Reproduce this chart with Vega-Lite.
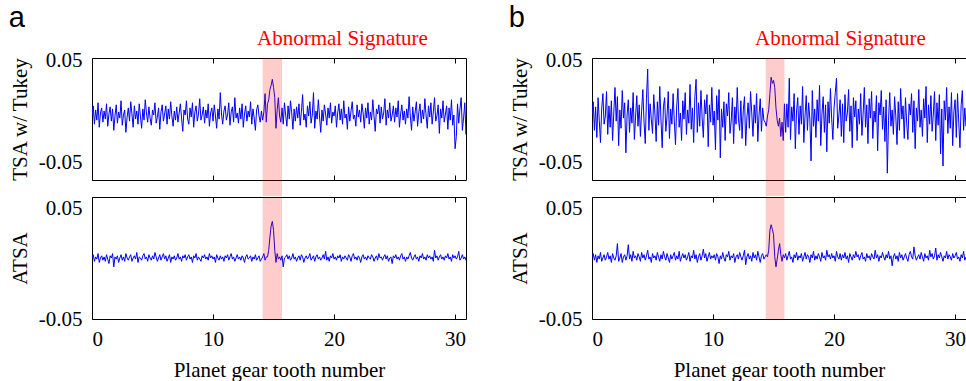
{
"$schema": "https://vega.github.io/schema/vega-lite/v6.json",
"background": "white",
"padding": {"left": 8, "top": 4, "right": 0, "bottom": 0},
"config": {
  "font": "Liberation Serif",
  "view": {"stroke": "black", "strokeWidth": 1},
  "axis": {"grid": false, "domain": false, "labelFont": "Liberation Serif", "labelFontSize": 21, "labelColor": "black", "titleFont": "Liberation Serif", "titleFontSize": 21, "titleFontWeight": "normal", "titleColor": "black", "tickColor": "black", "tickWidth": 1}
},
"data": {"values": [
{"x":0,"a1":-0.003,"a2":0.005,"b1":-0.002,"b2":0.006},
{"x":0.1,"a1":0.006,"a2":0.008,"b1":0.010,"b2":0.009},
{"x":0.2,"a1":-0.012,"a2":0.002,"b1":-0.018,"b2":0.003},
{"x":0.3,"a1":0.002,"a2":0.006,"b1":0.005,"b2":0.008},
{"x":0.4,"a1":-0.008,"a2":0.004,"b1":-0.025,"b2":0.001},
{"x":0.5,"a1":0.009,"a2":0.009,"b1":0.014,"b2":0.007},
{"x":0.6,"a1":-0.015,"a2":0.001,"b1":-0.008,"b2":0.004},
{"x":0.7,"a1":-0.001,"a2":0.005,"b1":-0.030,"b2":0.010},
{"x":0.8,"a1":0.004,"a2":0.007,"b1":0.003,"b2":0.002},
{"x":0.9,"a1":-0.010,"a2":0.003,"b1":0.018,"b2":0.005},
{"x":1.0,"a1":0.001,"a2":0.006,"b1":-0.012,"b2":0.008},
{"x":1.1,"a1":-0.007,"a2":0.002,"b1":-0.004,"b2":0.003},
{"x":1.2,"a1":0.008,"a2":0.008,"b1":0.020,"b2":0.006},
{"x":1.3,"a1":-0.014,"a2":0.004,"b1":-0.022,"b2":0.010},
{"x":1.4,"a1":-0.002,"a2":0.000,"b1":0.006,"b2":0.004},
{"x":1.5,"a1":0.005,"a2":0.007,"b1":-0.015,"b2":0.007},
{"x":1.6,"a1":-0.009,"a2":0.005,"b1":0.011,"b2":0.001},
{"x":1.7,"a1":0.003,"a2":0.009,"b1":-0.028,"b2":0.009},
{"x":1.8,"a1":-0.018,"a2":-0.003,"b1":-0.001,"b2":0.005},
{"x":1.9,"a1":-0.004,"a2":0.006,"b1":0.024,"b2":0.003},
{"x":2.0,"a1":0.007,"a2":0.004,"b1":-0.009,"b2":0.007},
{"x":2.1,"a1":-0.011,"a2":0.007,"b1":0.015,"b2":0.018},
{"x":2.2,"a1":0.000,"a2":0.001,"b1":-0.033,"b2":0.002},
{"x":2.3,"a1":-0.006,"a2":0.005,"b1":0.002,"b2":0.005},
{"x":2.4,"a1":0.011,"a2":0.008,"b1":-0.016,"b2":0.009},
{"x":2.5,"a1":-0.013,"a2":0.003,"b1":0.021,"b2":0.001},
{"x":2.6,"a1":-0.003,"a2":0.006,"b1":-0.006,"b2":0.006},
{"x":2.7,"a1":0.002,"a2":0.002,"b1":0.009,"b2":0.008},
{"x":2.8,"a1":-0.020,"a2":0.009,"b1":-0.040,"b2":0.003},
{"x":2.9,"a1":-0.005,"a2":0.005,"b1":-0.003,"b2":0.007},
{"x":3.0,"a1":0.004,"a2":0.003,"b1":0.012,"b2":0.017},
{"x":3.1,"a1":-0.009,"a2":0.006,"b1":-0.020,"b2":0.004},
{"x":3.2,"a1":0.010,"a2":0.008,"b1":0.004,"b2":0.008},
{"x":3.3,"a1":-0.002,"a2":0.002,"b1":-0.011,"b2":0.002},
{"x":3.4,"a1":-0.015,"a2":0.005,"b1":0.019,"b2":0.011},
{"x":3.5,"a1":0.006,"a2":0.007,"b1":-0.027,"b2":0.005},
{"x":3.6,"a1":-0.007,"a2":0.004,"b1":-0.005,"b2":0.007},
{"x":3.7,"a1":0.001,"a2":0.010,"b1":0.016,"b2":0.003},
{"x":3.8,"a1":-0.012,"a2":0.001,"b1":-0.014,"b2":0.009},
{"x":3.9,"a1":0.008,"a2":0.006,"b1":0.007,"b2":0.006},
{"x":4.0,"a1":-0.004,"a2":0.005,"b1":-0.024,"b2":0.002},
{"x":4.1,"a1":-0.016,"a2":0.003,"b1":0.001,"b2":0.010},
{"x":4.2,"a1":0.003,"a2":0.007,"b1":0.022,"b2":0.005},
{"x":4.3,"a1":-0.008,"a2":0.009,"b1":-0.010,"b2":0.008},
{"x":4.4,"a1":0.012,"a2":0.004,"b1":-0.031,"b2":0.003},
{"x":4.5,"a1":-0.001,"a2":0.006,"b1":0.013,"b2":0.007},
{"x":4.6,"a1":-0.010,"a2":0.002,"b1":0.042,"b2":0.012},
{"x":4.7,"a1":0.005,"a2":0.008,"b1":-0.018,"b2":0.004},
{"x":4.8,"a1":-0.006,"a2":0.005,"b1":0.008,"b2":0.006},
{"x":4.9,"a1":-0.013,"a2":0.003,"b1":-0.007,"b2":0.001},
{"x":5.0,"a1":0.002,"a2":0.007,"b1":-0.021,"b2":0.009},
{"x":5.1,"a1":-0.003,"a2":0.004,"b1":0.017,"b2":0.005},
{"x":5.2,"a1":0.009,"a2":0.010,"b1":-0.002,"b2":0.007},
{"x":5.3,"a1":-0.011,"a2":0.006,"b1":-0.029,"b2":0.003},
{"x":5.4,"a1":-0.005,"a2":0.002,"b1":0.010,"b2":0.010},
{"x":5.5,"a1":0.004,"a2":0.005,"b1":-0.013,"b2":0.006},
{"x":5.6,"a1":-0.017,"a2":0.008,"b1":0.025,"b2":0.002},
{"x":5.7,"a1":0.000,"a2":0.003,"b1":-0.008,"b2":0.008},
{"x":5.8,"a1":0.007,"a2":0.006,"b1":-0.035,"b2":0.004},
{"x":5.9,"a1":-0.009,"a2":0.009,"b1":0.005,"b2":0.011},
{"x":6.0,"a1":-0.002,"a2":0.004,"b1":0.014,"b2":0.006},
{"x":6.1,"a1":0.006,"a2":0.007,"b1":-0.019,"b2":0.003},
{"x":6.2,"a1":-0.012,"a2":0.002,"b1":-0.004,"b2":0.009},
{"x":6.3,"a1":0.003,"a2":0.005,"b1":0.020,"b2":0.005},
{"x":6.4,"a1":-0.007,"a2":0.008,"b1":-0.026,"b2":0.001},
{"x":6.5,"a1":0.010,"a2":0.001,"b1":0.003,"b2":0.008},
{"x":6.6,"a1":-0.004,"a2":0.006,"b1":-0.012,"b2":0.004},
{"x":6.7,"a1":-0.014,"a2":0.004,"b1":0.018,"b2":0.007},
{"x":6.8,"a1":0.001,"a2":0.007,"b1":-0.009,"b2":0.010},
{"x":6.9,"a1":-0.008,"a2":0.003,"b1":-0.032,"b2":0.003},
{"x":7.0,"a1":0.005,"a2":0.005,"b1":0.006,"b2":0.007},
{"x":7.1,"a1":-0.010,"a2":0.009,"b1":0.023,"b2":0.004},
{"x":7.2,"a1":-0.001,"a2":0.004,"b1":-0.015,"b2":0.011},
{"x":7.3,"a1":0.008,"a2":0.006,"b1":-0.001,"b2":0.002},
{"x":7.4,"a1":-0.006,"a2":0.002,"b1":-0.028,"b2":0.006},
{"x":7.5,"a1":-0.019,"a2":0.007,"b1":0.011,"b2":0.009},
{"x":7.6,"a1":0.002,"a2":0.005,"b1":-0.007,"b2":0.005},
{"x":7.7,"a1":-0.003,"a2":0.008,"b1":0.019,"b2":0.008},
{"x":7.8,"a1":0.011,"a2":0.003,"b1":-0.022,"b2":0.003},
{"x":7.9,"a1":-0.007,"a2":0.006,"b1":0.002,"b2":0.006},
{"x":8.0,"a1":-0.012,"a2":0.008,"b1":-0.011,"b2":0.010},
{"x":8.1,"a1":0.004,"a2":0.004,"b1":0.027,"b2":0.002},
{"x":8.2,"a1":-0.005,"a2":0.006,"b1":-0.017,"b2":0.007},
{"x":8.3,"a1":0.009,"a2":0.001,"b1":0.004,"b2":0.005},
{"x":8.4,"a1":-0.015,"a2":0.007,"b1":-0.030,"b2":0.012},
{"x":8.5,"a1":0.000,"a2":0.005,"b1":0.015,"b2":0.004},
{"x":8.6,"a1":0.006,"a2":0.009,"b1":0.032,"b2":0.008},
{"x":8.7,"a1":-0.009,"a2":0.003,"b1":-0.020,"b2":0.001},
{"x":8.8,"a1":-0.002,"a2":0.006,"b1":0.009,"b2":0.006},
{"x":8.9,"a1":0.013,"a2":0.004,"b1":-0.014,"b2":0.009},
{"x":9.0,"a1":-0.008,"a2":0.002,"b1":0.021,"b2":0.003},
{"x":9.1,"a1":-0.003,"a2":0.007,"b1":-0.006,"b2":0.007},
{"x":9.2,"a1":0.005,"a2":0.005,"b1":-0.025,"b2":0.013},
{"x":9.3,"a1":-0.011,"a2":0.008,"b1":0.012,"b2":0.005},
{"x":9.4,"a1":0.002,"a2":0.004,"b1":-0.002,"b2":0.009},
{"x":9.5,"a1":-0.006,"a2":0.006,"b1":0.017,"b2":0.002},
{"x":9.6,"a1":0.008,"a2":0.003,"b1":-0.034,"b2":0.006},
{"x":9.7,"a1":-0.014,"a2":0.009,"b1":0.007,"b2":0.010},
{"x":9.8,"a1":-0.001,"a2":0.005,"b1":-0.010,"b2":0.004},
{"x":9.9,"a1":0.004,"a2":0.007,"b1":0.024,"b2":0.007},
{"x":10.0,"a1":-0.009,"a2":0.004,"b1":-0.013,"b2":0.005},
{"x":10.1,"a1":0.007,"a2":0.006,"b1":0.001,"b2":0.008},
{"x":10.2,"a1":-0.004,"a2":0.001,"b1":-0.037,"b2":0.003},
{"x":10.3,"a1":-0.016,"a2":0.008,"b1":0.016,"b2":0.009},
{"x":10.4,"a1":0.003,"a2":0.005,"b1":-0.008,"b2":0.006},
{"x":10.5,"a1":-0.007,"a2":0.003,"b1":0.022,"b2":0.000},
{"x":10.6,"a1":0.019,"a2":0.007,"b1":-0.045,"b2":0.007},
{"x":10.7,"a1":-0.002,"a2":0.004,"b1":0.003,"b2":0.004},
{"x":10.8,"a1":-0.012,"a2":0.006,"b1":-0.015,"b2":0.010},
{"x":10.9,"a1":0.001,"a2":0.002,"b1":0.010,"b2":0.005},
{"x":11.0,"a1":0.006,"a2":0.007,"b1":-0.028,"b2":0.002},
{"x":11.1,"a1":-0.008,"a2":0.005,"b1":0.008,"b2":0.008},
{"x":11.2,"a1":-0.003,"a2":0.008,"b1":-0.004,"b2":0.006},
{"x":11.3,"a1":0.009,"a2":0.003,"b1":0.019,"b2":0.011},
{"x":11.4,"a1":-0.013,"a2":0.006,"b1":-0.021,"b2":0.003},
{"x":11.5,"a1":0.000,"a2":0.009,"b1":-0.009,"b2":0.007},
{"x":11.6,"a1":0.005,"a2":0.004,"b1":0.014,"b2":0.005},
{"x":11.7,"a1":-0.010,"a2":0.006,"b1":-0.031,"b2":0.009},
{"x":11.8,"a1":0.014,"a2":0.002,"b1":0.005,"b2":0.001},
{"x":11.9,"a1":-0.006,"a2":0.005,"b1":-0.012,"b2":0.006},
{"x":12.0,"a1":-0.001,"a2":0.008,"b1":0.024,"b2":0.008},
{"x":12.1,"a1":-0.011,"a2":0.004,"b1":-0.007,"b2":0.004},
{"x":12.2,"a1":0.004,"a2":0.006,"b1":-0.018,"b2":0.010},
{"x":12.3,"a1":-0.007,"a2":0.003,"b1":0.011,"b2":0.006},
{"x":12.4,"a1":0.008,"a2":0.007,"b1":-0.026,"b2":0.003},
{"x":12.5,"a1":-0.015,"a2":0.005,"b1":0.002,"b2":0.007},
{"x":12.6,"a1":-0.002,"a2":0.001,"b1":0.015,"b2":0.012},
{"x":12.7,"a1":0.006,"a2":0.006,"b1":-0.033,"b2":-0.001},
{"x":12.8,"a1":-0.009,"a2":0.008,"b1":-0.005,"b2":0.006},
{"x":12.9,"a1":0.001,"a2":0.004,"b1":0.009,"b2":0.009},
{"x":13.0,"a1":-0.005,"a2":0.005,"b1":-0.016,"b2":0.004},
{"x":13.1,"a1":0.010,"a2":0.007,"b1":0.020,"b2":0.007},
{"x":13.2,"a1":-0.012,"a2":0.002,"b1":-0.001,"b2":0.002},
{"x":13.3,"a1":0.003,"a2":0.006,"b1":-0.024,"b2":0.010},
{"x":13.4,"a1":-0.006,"a2":0.004,"b1":0.007,"b2":0.005},
{"x":13.5,"a1":-0.018,"a2":0.008,"b1":-0.011,"b2":0.008},
{"x":13.6,"a1":0.002,"a2":0.003,"b1":0.018,"b2":0.003},
{"x":13.7,"a1":0.007,"a2":0.005,"b1":-0.029,"b2":0.011},
{"x":13.8,"a1":-0.004,"a2":0.007,"b1":-0.003,"b2":0.006},
{"x":13.9,"a1":-0.010,"a2":0.002,"b1":0.013,"b2":0.001},
{"x":14.0,"a1":0.001,"a2":0.004,"b1":-0.019,"b2":0.007},
{"x":14.1,"a1":-0.008,"a2":0.006,"b1":0.004,"b2":0.009},
{"x":14.2,"a1":0.000,"a2":0.009,"b1":-0.008,"b2":0.004},
{"x":14.3,"a1":0.018,"a2":0.003,"b1":-0.010,"b2":0.006},
{"x":14.4,"a1":-0.010,"a2":0.006,"b1":-0.014,"b2":0.008},
{"x":14.5,"a1":0.008,"a2":0.006,"b1":-0.004,"b2":0.006},
{"x":14.6,"a1":0.012,"a2":0.012,"b1":0.002,"b2":0.012},
{"x":14.7,"a1":0.022,"a2":0.024,"b1":0.018,"b2":0.030},
{"x":14.8,"a1":0.026,"a2":0.034,"b1":0.034,"b2":0.035},
{"x":14.9,"a1":0.032,"a2":0.038,"b1":0.028,"b2":0.031},
{"x":15.0,"a1":0.024,"a2":0.030,"b1":0.031,"b2":0.026},
{"x":15.1,"a1":0.014,"a2":0.012,"b1":0.024,"b2":0.006},
{"x":15.2,"a1":-0.016,"a2":0.001,"b1":0.004,"b2":-0.003},
{"x":15.3,"a1":0.002,"a2":0.009,"b1":-0.008,"b2":0.004},
{"x":15.4,"a1":0.014,"a2":0.004,"b1":-0.014,"b2":0.012},
{"x":15.5,"a1":-0.004,"a2":0.006,"b1":-0.006,"b2":0.018},
{"x":15.6,"a1":-0.010,"a2":0.003,"b1":-0.024,"b2":0.008},
{"x":15.7,"a1":0.004,"a2":0.007,"b1":-0.010,"b2":0.002},
{"x":15.8,"a1":-0.012,"a2":-0.003,"b1":-0.028,"b2":0.008},
{"x":15.9,"a1":0.009,"a2":0.005,"b1":0.008,"b2":0.005},
{"x":16.0,"a1":-0.003,"a2":0.006,"b1":-0.020,"b2":0.009},
{"x":16.1,"a1":-0.014,"a2":0.008,"b1":0.008,"b2":0.003},
{"x":16.2,"a1":0.006,"a2":0.004,"b1":-0.015,"b2":0.007},
{"x":16.3,"a1":-0.007,"a2":0.007,"b1":0.033,"b2":0.011},
{"x":16.4,"a1":0.011,"a2":0.003,"b1":-0.027,"b2":0.004},
{"x":16.5,"a1":-0.001,"a2":0.005,"b1":0.005,"b2":0.006},
{"x":16.6,"a1":-0.017,"a2":0.009,"b1":-0.009,"b2":0.001},
{"x":16.7,"a1":0.003,"a2":0.004,"b1":0.018,"b2":0.008},
{"x":16.8,"a1":-0.009,"a2":0.006,"b1":-0.036,"b2":0.005},
{"x":16.9,"a1":0.005,"a2":0.002,"b1":0.001,"b2":0.010},
{"x":17.0,"a1":-0.006,"a2":0.005,"b1":0.014,"b2":0.003},
{"x":17.1,"a1":0.008,"a2":0.007,"b1":-0.022,"b2":0.007},
{"x":17.2,"a1":-0.013,"a2":0.003,"b1":0.006,"b2":0.005},
{"x":17.3,"a1":0.000,"a2":0.008,"b1":-0.012,"b2":0.009},
{"x":17.4,"a1":0.017,"a2":0.006,"b1":0.025,"b2":0.002},
{"x":17.5,"a1":-0.008,"a2":0.001,"b1":-0.030,"b2":0.006},
{"x":17.6,"a1":-0.002,"a2":0.005,"b1":-0.004,"b2":0.010},
{"x":17.7,"a1":-0.015,"a2":0.007,"b1":0.016,"b2":0.004},
{"x":17.8,"a1":0.006,"a2":0.004,"b1":-0.018,"b2":0.008},
{"x":17.9,"a1":-0.004,"a2":0.006,"b1":0.009,"b2":0.006},
{"x":18.0,"a1":0.010,"a2":0.009,"b1":-0.007,"b2":0.001},
{"x":18.1,"a1":-0.011,"a2":0.003,"b1":-0.048,"b2":0.008},
{"x":18.2,"a1":-0.003,"a2":0.005,"b1":0.021,"b2":0.005},
{"x":18.3,"a1":0.019,"a2":0.007,"b1":-0.014,"b2":0.011},
{"x":18.4,"a1":-0.016,"a2":0.002,"b1":0.003,"b2":0.003},
{"x":18.5,"a1":0.001,"a2":0.006,"b1":-0.025,"b2":0.007},
{"x":18.6,"a1":-0.007,"a2":0.008,"b1":0.012,"b2":0.004},
{"x":18.7,"a1":0.012,"a2":0.004,"b1":-0.009,"b2":0.009},
{"x":18.8,"a1":-0.005,"a2":0.006,"b1":0.026,"b2":0.006},
{"x":18.9,"a1":-0.020,"a2":0.003,"b1":-0.033,"b2":0.002},
{"x":19.0,"a1":0.002,"a2":0.005,"b1":-0.002,"b2":0.010},
{"x":19.1,"a1":-0.009,"a2":0.008,"b1":0.015,"b2":0.005},
{"x":19.2,"a1":0.007,"a2":0.004,"b1":-0.020,"b2":0.007},
{"x":19.3,"a1":-0.002,"a2":0.011,"b1":0.007,"b2":0.003},
{"x":19.4,"a1":-0.013,"a2":0.003,"b1":-0.039,"b2":0.012},
{"x":19.5,"a1":0.004,"a2":0.006,"b1":0.010,"b2":0.006},
{"x":19.6,"a1":-0.006,"a2":0.002,"b1":-0.011,"b2":0.008},
{"x":19.7,"a1":0.009,"a2":0.007,"b1":0.023,"b2":0.004},
{"x":19.8,"a1":-0.011,"a2":0.005,"b1":-0.006,"b2":0.009},
{"x":19.9,"a1":0.000,"a2":0.009,"b1":-0.027,"b2":0.005},
{"x":20.0,"a1":-0.004,"a2":0.004,"b1":0.004,"b2":0.007},
{"x":20.1,"a1":0.006,"a2":0.006,"b1":0.019,"b2":0.002},
{"x":20.2,"a1":-0.015,"a2":0.003,"b1":0.033,"b2":0.011},
{"x":20.3,"a1":-0.001,"a2":0.007,"b1":-0.016,"b2":0.006},
{"x":20.4,"a1":0.008,"a2":0.005,"b1":-0.003,"b2":0.004},
{"x":20.5,"a1":-0.008,"a2":0.008,"b1":0.012,"b2":0.009},
{"x":20.6,"a1":0.003,"a2":0.002,"b1":-0.024,"b2":0.003},
{"x":20.7,"a1":-0.012,"a2":0.006,"b1":0.008,"b2":0.008},
{"x":20.8,"a1":0.011,"a2":0.004,"b1":-0.030,"b2":0.005},
{"x":20.9,"a1":-0.006,"a2":0.007,"b1":0.017,"b2":0.010},
{"x":21.0,"a1":-0.002,"a2":0.005,"b1":-0.009,"b2":0.004},
{"x":21.1,"a1":-0.017,"a2":0.003,"b1":-0.001,"b2":0.007},
{"x":21.2,"a1":0.005,"a2":0.008,"b1":0.022,"b2":0.001},
{"x":21.3,"a1":-0.009,"a2":0.006,"b1":-0.019,"b2":0.009},
{"x":21.4,"a1":0.001,"a2":0.002,"b1":0.006,"b2":0.006},
{"x":21.5,"a1":0.010,"a2":0.007,"b1":-0.035,"b2":0.003},
{"x":21.6,"a1":-0.007,"a2":0.009,"b1":0.014,"b2":0.008},
{"x":21.7,"a1":-0.003,"a2":0.004,"b1":-0.005,"b2":0.005},
{"x":21.8,"a1":-0.014,"a2":0.006,"b1":0.011,"b2":0.011},
{"x":21.9,"a1":0.007,"a2":0.003,"b1":-0.028,"b2":0.006},
{"x":22.0,"a1":-0.005,"a2":0.007,"b1":0.003,"b2":0.008},
{"x":22.1,"a1":0.002,"a2":0.005,"b1":-0.012,"b2":0.003},
{"x":22.2,"a1":-0.010,"a2":0.001,"b1":0.018,"b2":0.007},
{"x":22.3,"a1":0.008,"a2":0.006,"b1":-0.023,"b2":0.010},
{"x":22.4,"a1":-0.001,"a2":0.008,"b1":-0.002,"b2":0.004},
{"x":22.5,"a1":-0.016,"a2":0.004,"b1":0.024,"b2":0.006},
{"x":22.6,"a1":0.004,"a2":0.006,"b1":-0.015,"b2":0.002},
{"x":22.7,"a1":-0.006,"a2":0.003,"b1":0.007,"b2":0.009},
{"x":22.8,"a1":0.009,"a2":0.007,"b1":-0.031,"b2":0.005},
{"x":22.9,"a1":-0.012,"a2":0.005,"b1":0.013,"b2":0.007},
{"x":23.0,"a1":0.000,"a2":0.004,"b1":-0.006,"b2":0.003},
{"x":23.1,"a1":-0.008,"a2":0.008,"b1":0.020,"b2":0.009},
{"x":23.2,"a1":0.012,"a2":0.006,"b1":-0.026,"b2":0.006},
{"x":23.3,"a1":-0.004,"a2":0.002,"b1":0.001,"b2":0.004},
{"x":23.4,"a1":-0.019,"a2":0.005,"b1":-0.010,"b2":0.012},
{"x":23.5,"a1":0.003,"a2":0.007,"b1":0.016,"b2":0.005},
{"x":23.6,"a1":-0.002,"a2":0.003,"b1":-0.038,"b2":0.008},
{"x":23.7,"a1":0.007,"a2":0.009,"b1":0.009,"b2":0.002},
{"x":23.8,"a1":-0.011,"a2":0.005,"b1":-0.003,"b2":0.007},
{"x":23.9,"a1":0.005,"a2":0.006,"b1":0.021,"b2":0.005},
{"x":24.0,"a1":-0.007,"a2":0.003,"b1":-0.017,"b2":0.010},
{"x":24.1,"a1":-0.001,"a2":0.006,"b1":0.005,"b2":0.006},
{"x":24.2,"a1":0.013,"a2":0.008,"b1":-0.029,"b2":0.003},
{"x":24.3,"a1":-0.013,"a2":0.004,"b1":0.012,"b2":0.008},
{"x":24.4,"a1":0.002,"a2":0.007,"b1":-0.060,"b2":0.005},
{"x":24.5,"a1":-0.006,"a2":0.002,"b1":-0.008,"b2":0.011},
{"x":24.6,"a1":0.009,"a2":0.005,"b1":0.019,"b2":0.004},
{"x":24.7,"a1":-0.009,"a2":0.006,"b1":-0.014,"b2":0.007},
{"x":24.8,"a1":-0.003,"a2":0.000,"b1":0.002,"b2":-0.002},
{"x":24.9,"a1":0.006,"a2":0.007,"b1":-0.022,"b2":0.006},
{"x":25.0,"a1":-0.010,"a2":0.005,"b1":0.015,"b2":0.009},
{"x":25.1,"a1":0.004,"a2":0.008,"b1":-0.004,"b2":0.004},
{"x":25.2,"a1":-0.005,"a2":0.004,"b1":-0.032,"b2":0.007},
{"x":25.3,"a1":0.011,"a2":0.006,"b1":0.010,"b2":0.002},
{"x":25.4,"a1":-0.015,"a2":0.003,"b1":-0.018,"b2":0.010},
{"x":25.5,"a1":-0.002,"a2":0.007,"b1":0.023,"b2":0.005},
{"x":25.6,"a1":0.007,"a2":0.009,"b1":-0.007,"b2":0.008},
{"x":25.7,"a1":-0.008,"a2":0.004,"b1":0.006,"b2":0.003},
{"x":25.8,"a1":0.001,"a2":0.006,"b1":-0.026,"b2":0.006},
{"x":25.9,"a1":-0.012,"a2":0.002,"b1":0.014,"b2":0.009},
{"x":26.0,"a1":0.003,"a2":0.006,"b1":-0.011,"b2":0.005},
{"x":26.1,"a1":-0.006,"a2":0.004,"b1":-0.027,"b2":0.002},
{"x":26.2,"a1":0.015,"a2":0.007,"b1":0.008,"b2":0.008},
{"x":26.3,"a1":-0.004,"a2":0.010,"b1":-0.003,"b2":0.011},
{"x":26.4,"a1":-0.018,"a2":0.005,"b1":0.018,"b2":0.006},
{"x":26.5,"a1":0.005,"a2":0.003,"b1":-0.020,"b2":0.004},
{"x":26.6,"a1":-0.009,"a2":0.006,"b1":0.011,"b2":0.015},
{"x":26.7,"a1":0.000,"a2":0.008,"b1":-0.036,"b2":0.007},
{"x":26.8,"a1":0.010,"a2":0.004,"b1":0.004,"b2":0.003},
{"x":26.9,"a1":-0.014,"a2":0.006,"b1":-0.009,"b2":0.006},
{"x":27.0,"a1":-0.001,"a2":0.002,"b1":0.022,"b2":0.008},
{"x":27.1,"a1":0.008,"a2":0.007,"b1":-0.015,"b2":0.004},
{"x":27.2,"a1":-0.011,"a2":0.005,"b1":0.002,"b2":0.010},
{"x":27.3,"a1":0.002,"a2":0.009,"b1":-0.024,"b2":0.006},
{"x":27.4,"a1":-0.007,"a2":0.004,"b1":0.013,"b2":0.002},
{"x":27.5,"a1":0.013,"a2":0.006,"b1":-0.006,"b2":0.009},
{"x":27.6,"a1":-0.003,"a2":0.003,"b1":0.025,"b2":0.005},
{"x":27.7,"a1":-0.016,"a2":0.008,"b1":-0.030,"b2":0.007},
{"x":27.8,"a1":0.006,"a2":0.005,"b1":0.007,"b2":0.003},
{"x":27.9,"a1":-0.005,"a2":0.007,"b1":-0.012,"b2":0.012},
{"x":28.0,"a1":0.009,"a2":0.004,"b1":0.016,"b2":0.006},
{"x":28.1,"a1":-0.012,"a2":0.006,"b1":-0.019,"b2":0.009},
{"x":28.2,"a1":0.000,"a2":0.002,"b1":-0.002,"b2":0.004},
{"x":28.3,"a1":0.014,"a2":0.012,"b1":0.020,"b2":0.007},
{"x":28.4,"a1":-0.009,"a2":0.005,"b1":-0.028,"b2":0.014},
{"x":28.5,"a1":-0.004,"a2":0.007,"b1":0.009,"b2":0.003},
{"x":28.6,"a1":0.007,"a2":0.003,"b1":-0.013,"b2":0.008},
{"x":28.7,"a1":-0.021,"a2":0.006,"b1":0.017,"b2":0.005},
{"x":28.8,"a1":0.003,"a2":0.008,"b1":-0.041,"b2":0.010},
{"x":28.9,"a1":-0.006,"a2":0.004,"b1":0.003,"b2":0.006},
{"x":29.0,"a1":0.011,"a2":0.006,"b1":-0.053,"b2":0.002},
{"x":29.1,"a1":-0.010,"a2":0.003,"b1":0.011,"b2":0.007},
{"x":29.2,"a1":-0.002,"a2":0.007,"b1":-0.008,"b2":0.005},
{"x":29.3,"a1":0.006,"a2":0.005,"b1":0.024,"b2":0.011},
{"x":29.4,"a1":-0.017,"a2":0.009,"b1":-0.021,"b2":0.004},
{"x":29.5,"a1":0.004,"a2":0.004,"b1":0.005,"b2":0.008},
{"x":29.6,"a1":-0.008,"a2":0.006,"b1":-0.016,"b2":0.006},
{"x":29.7,"a1":0.012,"a2":0.002,"b1":0.019,"b2":0.003},
{"x":29.8,"a1":-0.013,"a2":0.008,"b1":-0.033,"b2":0.009},
{"x":29.9,"a1":-0.003,"a2":0.005,"b1":0.000,"b2":0.005},
{"x":30.0,"a1":-0.036,"a2":0.007,"b1":0.012,"b2":0.007},
{"x":30.1,"a1":-0.024,"a2":0.004,"b1":-0.025,"b2":0.010},
{"x":30.2,"a1":0.008,"a2":0.006,"b1":0.018,"b2":0.004},
{"x":30.3,"a1":-0.011,"a2":0.011,"b1":-0.010,"b2":0.006},
{"x":30.4,"a1":0.003,"a2":0.003,"b1":-0.035,"b2":0.002},
{"x":30.5,"a1":0.014,"a2":0.005,"b1":0.007,"b2":0.008},
{"x":30.6,"a1":-0.018,"a2":0.008,"b1":0.021,"b2":0.005},
{"x":30.7,"a1":-0.006,"a2":0.004,"b1":-0.018,"b2":0.011},
{"x":30.8,"a1":0.009,"a2":0.006,"b1":0.004,"b2":0.003},
{"x":30.9,"a1":-0.022,"a2":0.003,"b1":-0.014,"b2":0.006},
{"x":31.0,"a1":-0.004,"a2":0.005,"b1":-0.006,"b2":0.007}
]},
"spacing": 41,
"hconcat": [
 {
  "title": {"text": "a", "font": "Liberation Sans", "fontSize": 29, "fontWeight": "normal", "anchor": "start", "frame": "bounds", "color": "black", "offset": -6},
  "spacing": -3,
  "vconcat": [
   {
    "width": 374, "height": 122,
    "title": {"text": "Abnormal Signature", "color": "#ff0000", "font": "Liberation Serif", "fontSize": 21, "fontWeight": "normal", "anchor": "start", "frame": "group", "dx": 165, "offset": 1},
    "layer": [
     {"mark": {"type": "line", "color": "#0000ff", "strokeWidth": 1, "clip": true},
      "encoding": {
       "x": {"field": "x", "type": "quantitative", "scale": {"domain": [0, 30.9], "nice": false, "zero": false}, "axis": {"orient": "bottom", "values": [0, 10, 20, 30], "labels": false, "title": null, "tickSize": -5}},
       "y": {"field": "a1", "type": "quantitative", "scale": {"domain": [-0.0667, 0.0529], "nice": false, "zero": false}, "axis": {"values": [-0.05, 0.05], "ticks": false, "title": "TSA w/ Tukey", "labelPadding": 10, "titlePadding": 8, "labelExpr": "datum.value > 0 ? '0.05' : '-0.05'"}}
      }},
     {"data": {"values": [{"s": 14.1, "e": 15.7}]},
      "mark": {"type": "rect", "color": "#ff0000", "opacity": 0.2, "clip": false},
      "encoding": {
       "x": {"field": "s", "type": "quantitative", "scale": {"domain": [0, 30.9], "nice": false, "zero": false}, "axis": {"orient": "top", "values": [0, 10, 20, 30], "labels": false, "title": null, "tickSize": -5}},
       "x2": {"field": "e"},
       "y": {"datum": 0.0529, "type": "quantitative", "axis": {"values": [-0.05, 0.05], "ticks": false, "title": "TSA w/ Tukey", "labelPadding": 10, "titlePadding": 8, "labelExpr": "datum.value > 0 ? '0.05' : '-0.05'"}},
       "y2": {"datum": -0.0824}
      }}
    ],
    "resolve": {"axis": {"x": "independent"}}
   },
   {
    "width": 374, "height": 122,
    "layer": [
     {"mark": {"type": "line", "color": "#0000ff", "strokeWidth": 1, "clip": true},
      "encoding": {
       "x": {"field": "x", "type": "quantitative", "scale": {"domain": [0, 30.9], "nice": false, "zero": false}, "axis": {"orient": "bottom", "values": [0, 10, 20, 30], "title": "Planet gear tooth number", "tickSize": -5, "labelPadding": 14, "titlePadding": 10}},
       "y": {"field": "a2", "type": "quantitative", "scale": {"domain": [-0.05, 0.06], "nice": false, "zero": false}, "axis": {"values": [-0.05, 0.05], "ticks": false, "title": "ATSA", "labelPadding": 10, "titlePadding": 8, "labelExpr": "datum.value > 0 ? '0.05' : '-0.05'"}}
      }},
     {"data": {"values": [{"s": 14.1, "e": 15.7}]},
      "mark": {"type": "rect", "color": "#ff0000", "opacity": 0.2},
      "encoding": {
       "x": {"field": "s", "type": "quantitative", "scale": {"domain": [0, 30.9], "nice": false, "zero": false}, "axis": {"orient": "top", "values": [0, 10, 20, 30], "labels": false, "title": null, "tickSize": -5}},
       "x2": {"field": "e"}
      }}
    ],
    "resolve": {"axis": {"x": "independent"}}
   }
  ]
 },
 {
  "title": {"text": "b", "font": "Liberation Sans", "fontSize": 29, "fontWeight": "normal", "anchor": "start", "frame": "bounds", "color": "black", "offset": -6},
  "spacing": -3,
  "vconcat": [
   {
    "width": 374, "height": 122,
    "title": {"text": "Abnormal Signature", "color": "#ff0000", "font": "Liberation Serif", "fontSize": 21, "fontWeight": "normal", "anchor": "start", "frame": "group", "dx": 163, "offset": 1},
    "layer": [
     {"mark": {"type": "line", "color": "#0000ff", "strokeWidth": 1, "clip": true},
      "encoding": {
       "x": {"field": "x", "type": "quantitative", "scale": {"domain": [0, 30.9], "nice": false, "zero": false}, "axis": {"orient": "bottom", "values": [0, 10, 20, 30], "labels": false, "title": null, "tickSize": -5}},
       "y": {"field": "b1", "type": "quantitative", "scale": {"domain": [-0.0667, 0.0529], "nice": false, "zero": false}, "axis": {"values": [-0.05, 0.05], "ticks": false, "title": "TSA w/ Tukey", "labelPadding": 10, "titlePadding": 8, "labelExpr": "datum.value > 0 ? '0.05' : '-0.05'"}}
      }},
     {"data": {"values": [{"s": 14.35, "e": 15.9}]},
      "mark": {"type": "rect", "color": "#ff0000", "opacity": 0.2, "clip": false},
      "encoding": {
       "x": {"field": "s", "type": "quantitative", "scale": {"domain": [0, 30.9], "nice": false, "zero": false}, "axis": {"orient": "top", "values": [0, 10, 20, 30], "labels": false, "title": null, "tickSize": -5}},
       "x2": {"field": "e"},
       "y": {"datum": 0.0529, "type": "quantitative", "axis": {"values": [-0.05, 0.05], "ticks": false, "title": "TSA w/ Tukey", "labelPadding": 10, "titlePadding": 8, "labelExpr": "datum.value > 0 ? '0.05' : '-0.05'"}},
       "y2": {"datum": -0.0824}
      }}
    ],
    "resolve": {"axis": {"x": "independent"}}
   },
   {
    "width": 374, "height": 122,
    "layer": [
     {"mark": {"type": "line", "color": "#0000ff", "strokeWidth": 1, "clip": true},
      "encoding": {
       "x": {"field": "x", "type": "quantitative", "scale": {"domain": [0, 30.9], "nice": false, "zero": false}, "axis": {"orient": "bottom", "values": [0, 10, 20, 30], "title": "Planet gear tooth number", "tickSize": -5, "labelPadding": 14, "titlePadding": 10}},
       "y": {"field": "b2", "type": "quantitative", "scale": {"domain": [-0.05, 0.06], "nice": false, "zero": false}, "axis": {"values": [-0.05, 0.05], "ticks": false, "title": "ATSA", "labelPadding": 10, "titlePadding": 8, "labelExpr": "datum.value > 0 ? '0.05' : '-0.05'"}}
      }},
     {"data": {"values": [{"s": 14.35, "e": 15.9}]},
      "mark": {"type": "rect", "color": "#ff0000", "opacity": 0.2},
      "encoding": {
       "x": {"field": "s", "type": "quantitative", "scale": {"domain": [0, 30.9], "nice": false, "zero": false}, "axis": {"orient": "top", "values": [0, 10, 20, 30], "labels": false, "title": null, "tickSize": -5}},
       "x2": {"field": "e"}
      }}
    ],
    "resolve": {"axis": {"x": "independent"}}
   }
  ]
 }
]
}
